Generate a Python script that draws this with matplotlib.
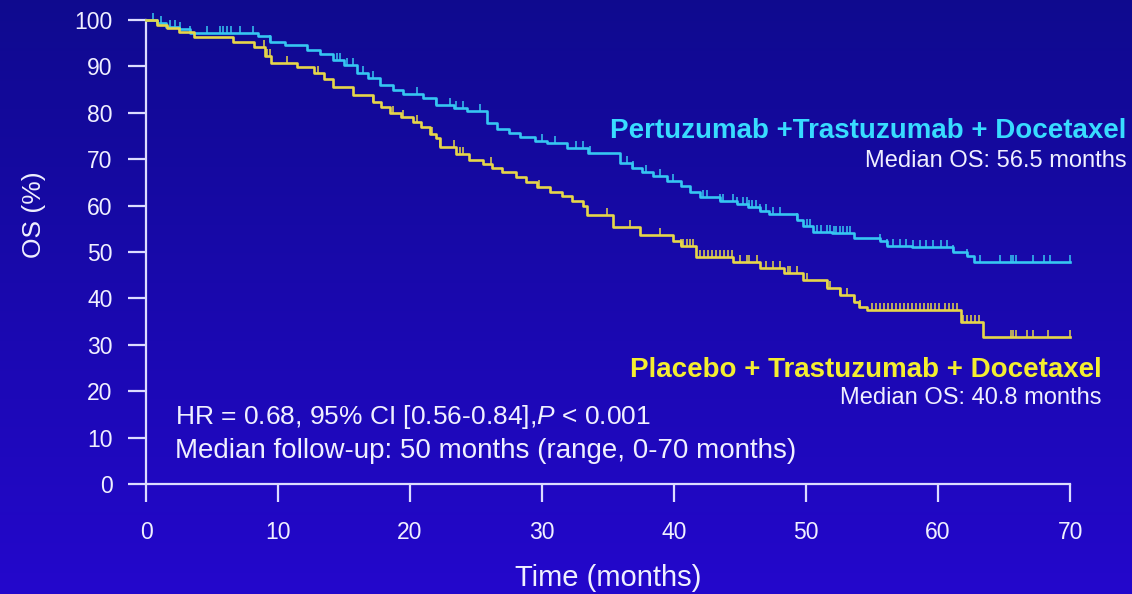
import matplotlib
matplotlib.use("Agg")
import matplotlib.pyplot as plt
import numpy as np
from matplotlib.path import Path

plt.rcParams["font.family"] = ["Liberation Sans", "DejaVu Sans"]
plt.rcParams["mathtext.fontset"] = "custom"
plt.rcParams["mathtext.rm"] = "Liberation Sans"
plt.rcParams["mathtext.it"] = "Liberation Sans:italic"

# Kaplan-Meier steps: (months, % alive)
ptz_time = [0, 0.8, 1.5, 2.5, 3.3, 8.5, 9.4, 10.5, 12.2, 13.2, 14.2, 15.0, 16.0,
            16.8, 17.7, 18.7, 19.5, 21.0, 22.0, 23.3, 24.3, 25.8, 26.6, 27.5,
            28.3, 29.5, 30.4, 31.9, 33.5, 35.9, 36.8, 37.6, 38.4, 39.5, 40.5,
            41.2, 42.0, 43.5, 44.8, 45.6, 46.5, 47.2, 49.3, 49.8, 50.5, 52.0,
            53.6, 55.6, 56.1, 58.0, 61.1, 62.2, 62.7, 70.0]
ptz_surv = [100, 99.3, 98.6, 98.0, 97.3, 96.5, 95.3, 94.6, 93.5, 92.6, 91.4,
            90.2, 88.6, 87.4, 86.0, 85.0, 84.0, 83.2, 81.7, 81.0, 80.3, 77.8,
            76.6, 75.6, 74.8, 74.0, 73.4, 72.4, 71.4, 69.2, 68.0, 67.2, 66.4,
            65.3, 64.2, 63.0, 61.9, 61.0, 60.4, 59.6, 58.8, 58.2, 56.9, 55.6,
            54.3, 54.0, 53.0, 52.4, 51.4, 51.0, 50.0, 49.2, 47.8, 47.8]

pla_time = [0, 0.8, 1.6, 2.5, 3.6, 6.6, 8.2, 9.0, 9.5, 11.4, 12.7, 13.5, 14.2,
            15.7, 17.2, 17.8, 18.5, 19.3, 20.2, 20.8, 21.5, 22.0, 22.3, 23.5,
            24.5, 25.5, 26.2, 27.0, 28.0, 28.8, 29.6, 30.6, 31.5, 32.3, 33.1,
            33.4, 35.4, 37.4, 39.9, 40.5, 41.7, 44.5, 46.5, 48.3, 49.8, 51.6,
            52.6, 53.6, 54.0, 54.6, 61.7, 63.4, 70.0]
pla_surv = [100, 99.0, 98.2, 97.4, 96.4, 95.2, 94.2, 92.2, 90.7, 89.8, 88.6,
            87.2, 85.6, 83.8, 82.3, 81.2, 79.9, 79.0, 78.0, 77.0, 75.5, 74.6,
            72.6, 71.2, 69.8, 69.0, 68.0, 67.2, 66.2, 65.0, 64.0, 63.0, 62.0,
            61.0, 60.0, 58.0, 55.4, 53.7, 52.4, 51.2, 49.0, 47.9, 46.5, 45.4,
            44.0, 42.2, 40.7, 39.3, 38.2, 37.5, 35.0, 31.7, 31.7]

# censoring times (months)
ptz_cens = [0.5, 1.1, 1.8, 2.2, 2.6, 3.3, 4.6, 5.6, 5.8, 6.1, 6.4, 7.1, 8.1, 9.4,
            14.5, 14.7, 15.2, 15.7, 16.4, 17.2, 20.5, 22.0, 23.0, 23.5, 24.0,
            25.3, 30.0, 31.0, 32.6, 33.1, 33.6, 36.4, 36.9, 37.9, 38.9, 39.9,
            42.2, 42.5, 43.5, 43.7, 44.5, 44.8, 45.2, 45.5, 45.7, 45.9, 46.2,
            46.5, 47.0, 47.5, 48.0, 49.3, 50.1, 50.3, 50.8, 51.1, 51.6, 51.8,
            52.1, 52.3, 52.6, 52.8, 53.1, 53.3, 55.6, 56.1, 56.6, 57.1, 57.6,
            58.1, 58.6, 59.1, 59.6, 60.2, 60.7, 61.1, 62.2, 63.2, 64.7, 65.5,
            65.7, 65.9, 67.2, 68.0, 68.5, 70.0]
pla_cens = [8.9, 9.2, 9.4, 10.7, 13.0, 17.2, 18.7, 19.5, 20.5, 21.7, 22.3, 23.3,
            23.8, 24.0, 26.1, 29.8, 34.9, 36.7, 38.9, 40.5, 40.7, 41.0, 41.2,
            41.4, 42.0, 42.3, 42.6, 42.9, 43.2, 43.5, 43.8, 44.1, 44.4, 45.0,
            45.5, 45.7, 46.3, 47.0, 47.5, 48.0, 48.6, 48.8, 49.3, 50.1, 51.6,
            51.8, 52.6, 53.1, 53.6, 54.1, 55.0, 55.3, 55.6, 55.9, 56.2, 56.5,
            56.8, 57.1, 57.4, 57.7, 58.0, 58.3, 58.6, 58.9, 59.2, 59.5, 59.8,
            60.1, 60.5, 60.8, 61.1, 61.4, 61.9, 62.2, 62.5, 62.8, 63.1, 65.5,
            65.7, 65.9, 66.7, 67.2, 68.3, 70.0]

arm_labels = ["Pertuzumab +Trastuzumab + Docetaxel",
              "Placebo + Trastuzumab + Docetaxel"]
median_labels = ["Median OS: 56.5 months", "Median OS: 40.8 months"]

CYAN_LINE = "#36c6f2"
CYAN_TEXT = "#38dcff"
YELLOW_LINE = "#e6d64a"
YELLOW_TEXT = "#f4ee30"
AXIS = "#dcdcff"
WHITE = "#f0f0ff"

fig = plt.figure(figsize=(11.32, 5.94), dpi=100)

# blue backdrop, darker at the top
bg = fig.add_axes([0, 0, 1, 1], zorder=-1)
grad = np.linspace(0, 1, 256).reshape(-1, 1)
top = np.array([0.06, 0.04, 0.56])
bottom = np.array([0.14, 0.03, 0.80])
img = top + grad[..., None] * (bottom - top)
bg.imshow(img, aspect="auto", extent=[0, 1, 0, 1])
bg.axis("off")

ax = fig.add_axes([0.129, 0.1852, 0.8163, 0.7811])
ax.patch.set_alpha(0)

tick_up = Path([(0, 0), (0, 1)], [Path.MOVETO, Path.LINETO])


def km(time, surv, cens, color):
    ax.plot(time, surv, drawstyle="steps-post", color=color, lw=1.9,
            clip_on=False, zorder=3)
    idx = np.searchsorted(time, cens, side="right") - 1
    ax.plot(cens, np.asarray(surv)[idx], ls="none", marker=tick_up,
            markersize=10, markeredgewidth=1.1, color=color, clip_on=False,
            zorder=3)


km(ptz_time, ptz_surv, ptz_cens, CYAN_LINE)
km(pla_time, pla_surv, pla_cens, YELLOW_LINE)

ax.set_xlim(0, 70)
ax.set_ylim(0, 100)
ax.set_xticks(range(0, 71, 10))
ax.set_yticks(range(0, 101, 10))
for side in ("top", "right"):
    ax.spines[side].set_visible(False)
for side in ("left", "bottom"):
    ax.spines[side].set_color(AXIS)
    ax.spines[side].set_linewidth(1.6)
ax.tick_params(axis="both", colors=AXIS, labelcolor=WHITE, direction="out",
               length=13, width=1.6, labelsize=16.5)
ax.tick_params(axis="x", pad=14)
ax.tick_params(axis="y", pad=11)

ax.set_xlabel("Time (months)", color=WHITE, fontsize=21)
ax.xaxis.set_label_coords(0.5, -0.172)
ax.set_ylabel("OS (%)", color=WHITE, fontsize=19)
ax.yaxis.set_label_coords(-0.108, 0.58)

ax.text(74.3, 76.1, arm_labels[0], color=CYAN_TEXT, fontsize=20,
        fontweight="bold", ha="right", va="center", clip_on=False)
ax.text(74.3, 69.7, median_labels[0], color=WHITE, fontsize=17,
        ha="right", va="center", clip_on=False)
ax.text(72.4, 24.5, arm_labels[1], color=YELLOW_TEXT, fontsize=20,
        fontweight="bold", ha="right", va="center", clip_on=False)
ax.text(72.4, 18.6, median_labels[1], color=WHITE, fontsize=17,
        ha="right", va="center", clip_on=False)

ax.text(2.2, 14.4, "HR = 0.68, 95% CI [0.56-0.84],$\\it{P}$ < 0.001",
        color=WHITE, fontsize=19, ha="left", va="center")
ax.text(2.2, 7.2, "Median follow-up: 50 months (range, 0-70 months)",
        color=WHITE, fontsize=20, ha="left", va="center")

fig.savefig("out.png", dpi=100)
